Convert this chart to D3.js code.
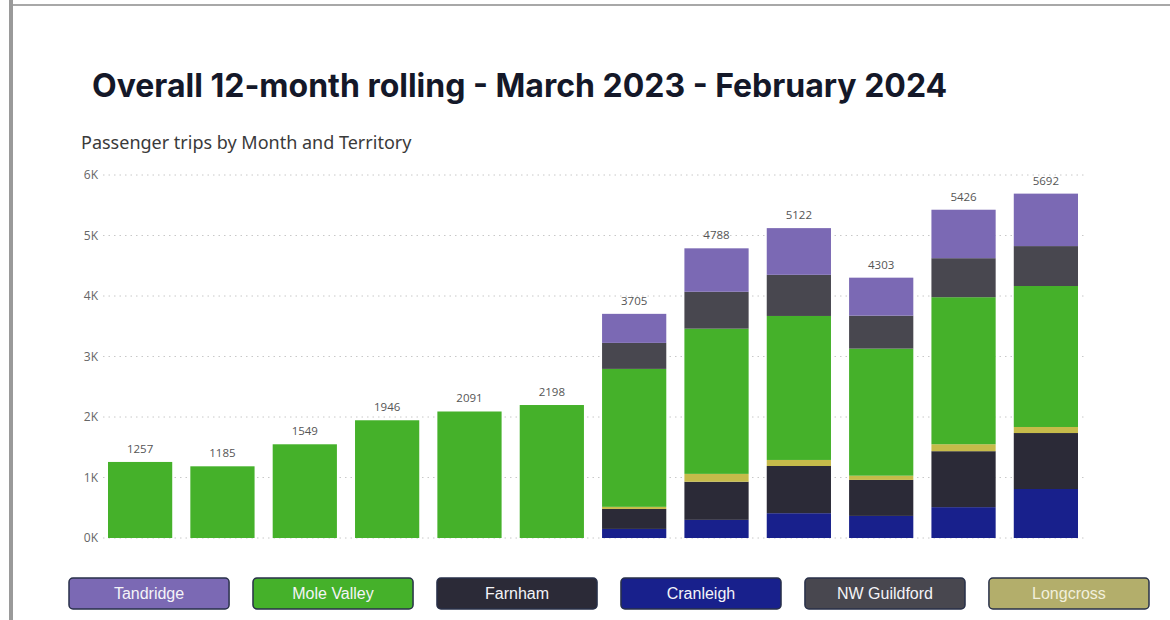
<!DOCTYPE html>
<html>
<head>
<meta charset="utf-8">
<script src="https://cdn.jsdelivr.net/npm/d3@7"></script>
<style>
  html, body { margin: 0; padding: 0; background: #fff; }
  svg { display: block; }
</style>
</head>
<body>
<svg id="chart" width="1170" height="620"></svg>
<script>
// ---- Data ----
const months = ["Mar 2023","Apr 2023","May 2023","Jun 2023","Jul 2023","Aug 2023","Sep 2023","Oct 2023","Nov 2023","Dec 2023","Jan 2024","Feb 2024"];
const territories = ["Cranleigh","Farnham","Longcross","Mole Valley","NW Guildford","Tandridge"]; // stack order, bottom to top
const legendOrder = ["Tandridge","Mole Valley","Farnham","Cranleigh","NW Guildford","Longcross"];
const cranleigh   = [0,0,0,0,0,0, 150, 300, 410, 365, 510, 810];
const farnham     = [0,0,0,0,0,0, 330, 630, 780, 595, 925, 925];
const longcross   = [0,0,0,0,0,0,  35, 130, 100,  70, 115, 100];
const moleValley  = [1257,1185,1549,1946,2091,2198, 2280, 2400, 2380, 2100, 2430, 2330];
const nwGuildford = [0,0,0,0,0,0, 430, 610, 680, 545, 645, 660];
const tandridge   = [0,0,0,0,0,0, 480, 718, 772, 628, 801, 867];
const yTicks = [0,1000,2000,3000,4000,5000,6000];
const titleText = "Overall 12-month rolling - March 2023 - February 2024";
const subtitleText = "Passenger trips by Month and Territory";

// ---- Styles ----
const barColors = {
  "Tandridge": "#7B69B4",
  "Mole Valley": "#45B12A",
  "Farnham": "#2B2A37",
  "Cranleigh": "#18208C",
  "NW Guildford": "#48474F",
  "Longcross": "#C6BB4A"
};
const legendColors = {
  "Tandridge": "#7B69B4",
  "Mole Valley": "#45B12A",
  "Farnham": "#2B2A37",
  "Cranleigh": "#18208C",
  "NW Guildford": "#48474F",
  "Longcross": "#B3AE6B"
};

const seriesMap = {
  "Cranleigh": cranleigh, "Farnham": farnham, "Longcross": longcross,
  "Mole Valley": moleValley, "NW Guildford": nwGuildford, "Tandridge": tandridge
};
const rows = months.map((m, i) => {
  const r = { month: m };
  territories.forEach(t => r[t] = seriesMap[t][i]);
  r.total = territories.reduce((s, t) => s + r[t], 0);
  return r;
});

const svg = d3.select("#chart");

// Frame borders
svg.append("rect").attr("x", 9).attr("y", 0).attr("width", 4).attr("height", 620).attr("fill", "#9a9a9a");
svg.append("rect").attr("x", 13).attr("y", 4).attr("width", 1157).attr("height", 2).attr("fill", "#a8a8a8");

// Title
svg.append("text")
  .attr("x", 92).attr("y", 97)
  .attr("font-family", "Inter, 'Open Sans', sans-serif")
  .attr("font-weight", 700)
  .attr("font-size", 32)
  .attr("fill", "#141829")
  .text(titleText);

svg.append("text")
  .attr("x", 81).attr("y", 149)
  .attr("font-family", "'Noto Sans', 'Open Sans', sans-serif")
  .attr("font-size", 18)
  .attr("fill", "#3a3a3a")
  .text(subtitleText);

// Scales
const x = d3.scaleBand().domain(months).range([108, 1078]).paddingInner(0.22).paddingOuter(0);
const y = d3.scaleLinear().domain([0, 6000]).range([538, 175]);

// Gridlines
svg.append("g").selectAll("line").data(yTicks).join("line")
  .attr("x1", 103).attr("x2", 1084)
  .attr("y1", d => y(d)).attr("y2", d => y(d))
  .attr("stroke", "#c8c8c8").attr("stroke-width", 1)
  .attr("stroke-dasharray", "1.5,4");

// Y axis
const yAxis = svg.append("g")
  .attr("transform", "translate(98,0)")
  .call(d3.axisLeft(y).tickValues(yTicks).tickSize(0).tickPadding(0).tickFormat(d => (d / 1000) + "K"));
yAxis.select(".domain").remove();
yAxis.selectAll("text")
  .attr("font-family", "'Open Sans', 'Noto Sans', sans-serif")
  .attr("font-size", 12)
  .attr("fill", "#666");

// Stacked bars
const stacked = d3.stack().keys(territories)(rows);
svg.append("g").selectAll("g").data(stacked).join("g")
  .attr("fill", d => barColors[d.key])
  .selectAll("rect").data(d => d).join("rect")
  .attr("x", d => x(d.data.month))
  .attr("width", x.bandwidth())
  .attr("y", d => y(d[1]))
  .attr("height", d => Math.max(0, y(d[0]) - y(d[1])));

// Total labels
svg.append("g").selectAll("text").data(rows).join("text")
  .attr("x", d => x(d.month) + x.bandwidth() / 2)
  .attr("y", d => y(d.total) - 9)
  .attr("text-anchor", "middle")
  .attr("font-family", "'Open Sans', 'Noto Sans', sans-serif")
  .attr("font-size", 11.5)
  .attr("fill", "#555")
  .text(d => d.total);

// Legend buttons
const lx = d3.scaleBand().domain(legendOrder).range([69, 1149]).paddingInner(0.13).paddingOuter(0);
const lg = svg.append("g").selectAll("g").data(legendOrder).join("g")
  .attr("transform", d => `translate(${lx(d)},578)`);
lg.append("rect")
  .attr("width", lx.bandwidth()).attr("height", 31)
  .attr("rx", 4).attr("ry", 4)
  .attr("fill", d => legendColors[d])
  .attr("stroke", "#283049").attr("stroke-width", 1.5);
lg.append("text")
  .attr("x", lx.bandwidth() / 2).attr("y", 21)
  .attr("text-anchor", "middle")
  .attr("font-family", "'Liberation Sans', Arial, sans-serif")
  .attr("font-size", 16)
  .attr("fill", d => d === "Longcross" ? "#f2f0dc" : "#f4f4f8")
  .text(d => d);
</script>
</body>
</html>
